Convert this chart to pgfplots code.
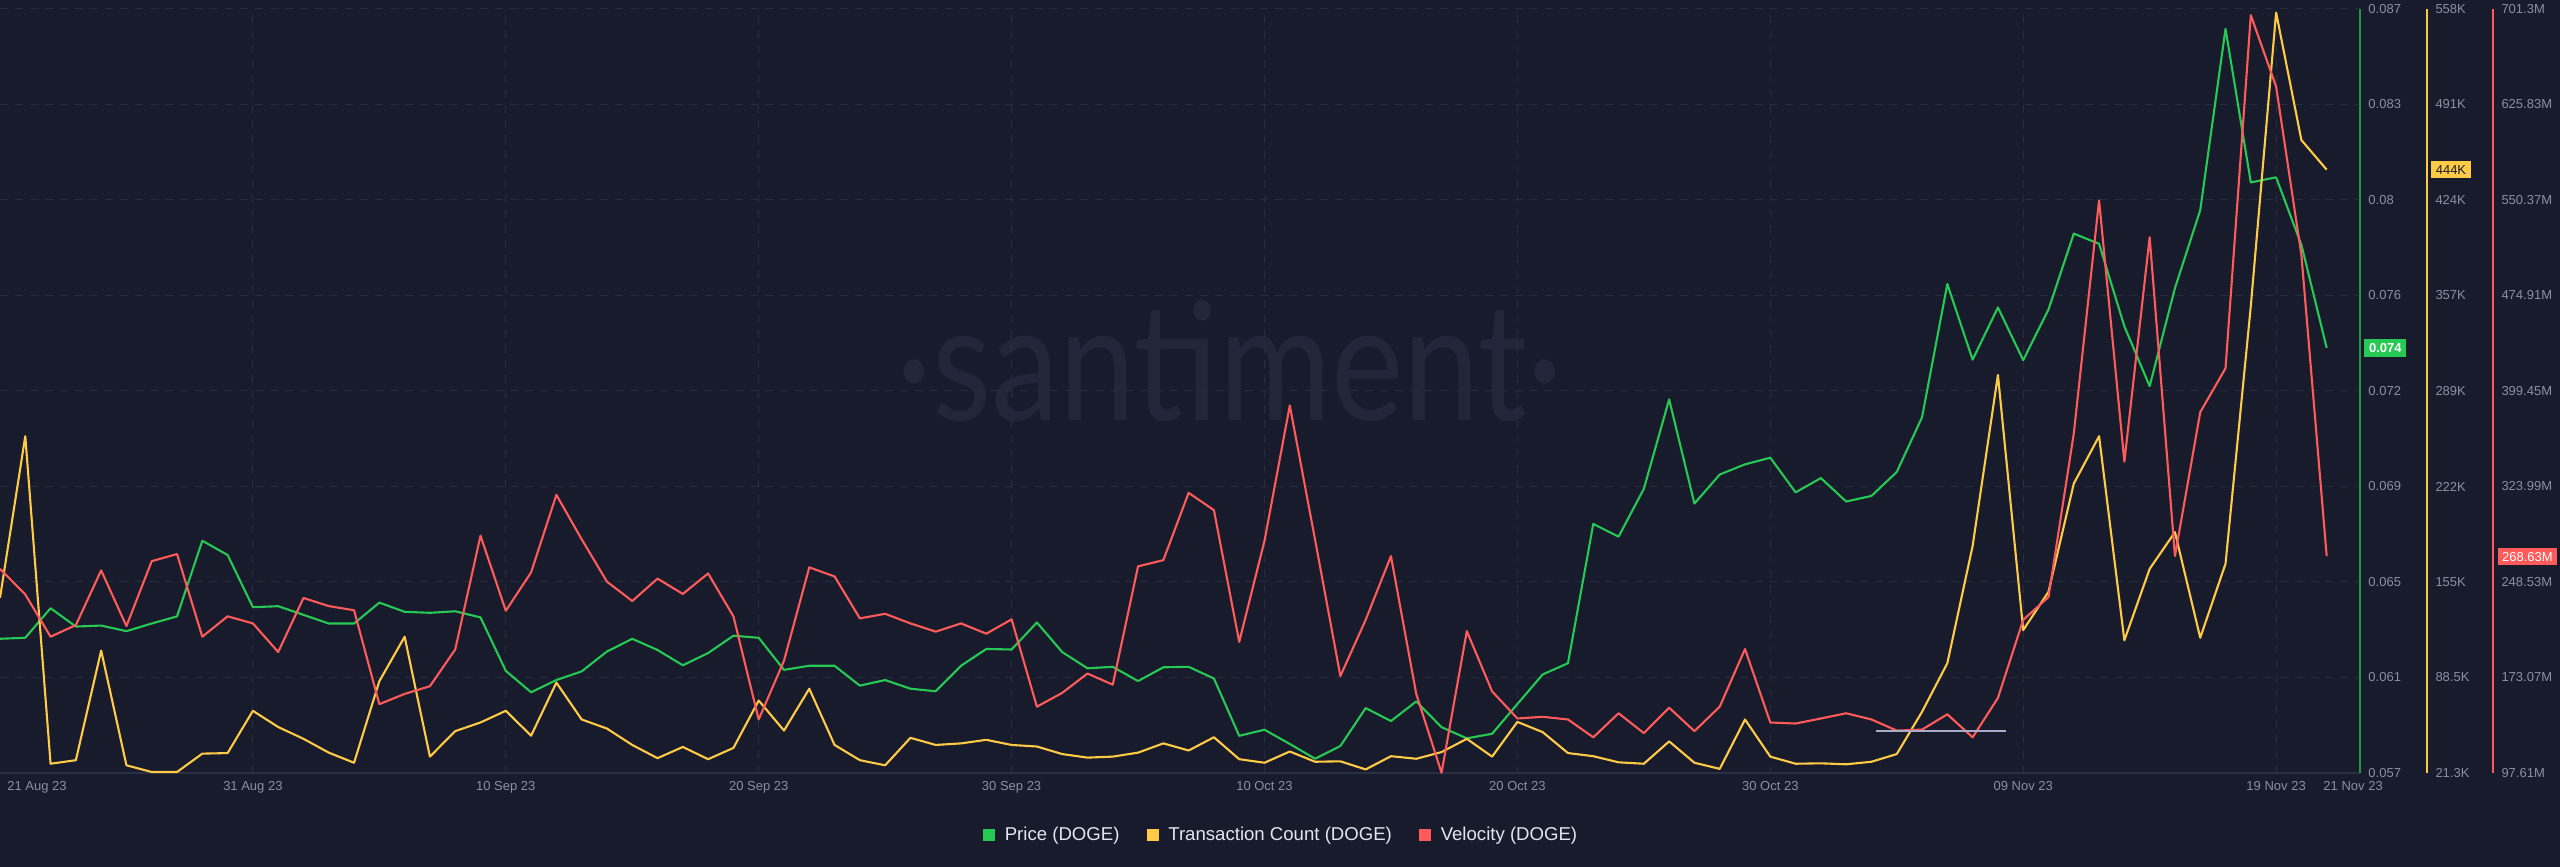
\documentclass[border=0pt]{standalone}
\usepackage{fontspec}
\setmainfont{Liberation Sans}
\newfontfamily\wmfont{Lato}
\usepackage{graphicx}
\usepackage{pgfplots}
\pgfplotsset{compat=1.18}
\definecolor{bg}{HTML}{181B2B}
\definecolor{gridc}{HTML}{282C40}
\definecolor{axisc}{HTML}{2B2F44}
\definecolor{pricegreen}{HTML}{26C953}
\definecolor{countyellow}{HTML}{FFCB47}
\definecolor{velred}{HTML}{FF5B5B}
\definecolor{ticktext}{HTML}{8A8FA5}
\definecolor{legtext}{HTML}{E3E5EE}
\definecolor{wm}{HTML}{22263A}
\definecolor{crossc}{HTML}{A9ADCB}
\definecolor{darktext}{HTML}{1B1E2E}
\pgfplotsset{
  dogebase/.style={
    at={(0pt,47pt)}, anchor=south west,
    scale only axis, height=382pt,
    clip=false,
    major tick length=0pt,
    tick style={draw=none},
    tick label style={font=\fontsize{6.5}{7}\selectfont, text=ticktext},
    yticklabel style={anchor=west, inner sep=0pt, xshift=4pt},
    /pgf/number format/assume math mode=true,
    axis y line*=right,
  },
}
\begin{document}
\begin{tikzpicture}
\fill[bg] (0,0) rectangle (1280pt,433.5pt);
\node[text=wm, inner sep=0pt] at (615pt,252.75pt) {\resizebox{333pt}{60pt}{\wmfont ·santiment·}};
% ---------------- Price axis ----------------
\begin{axis}[dogebase,
  width=1180pt,
  xmin=0, xmax=93.32, ymin=0.057, ymax=0.087,
  axis x line*=bottom,
  x axis line style={draw=axisc, line width=0.6pt},
  y axis line style={draw=pricegreen!70!bg, line width=0.7pt},
  ytick={0.057,0.06075,0.0645,0.06825,0.072,0.07575,0.0795,0.08325,0.087},
  yticklabels={0.057,0.061,0.065,0.069,0.072,0.076,0.08,0.083,0.087},
  xtick={10,20,30,40,50,60,70,80,90},
  xticklabels={31 Aug 23,10 Sep 23,20 Sep 23,30 Sep 23,10 Oct 23,20 Oct 23,30 Oct 23,09 Nov 23,19 Nov 23},
  xticklabel style={anchor=north, inner sep=0pt, yshift=-4.2pt},
  extra x ticks={0}, extra x tick labels={21 Aug 23},
  extra x tick style={grid=none, xticklabel style={anchor=north west, xshift=3.5pt}},
  xmajorgrids, ymajorgrids,
  major grid style={draw=gridc, line width=0.5pt, dash pattern=on 4pt off 3.5pt},
  legend columns=3,
  legend style={at={(axis description cs:0.5424,-0.0812)}, anchor=center,
    draw=none, fill=none, font=\fontsize{9.3}{11}\selectfont, text=legtext,
    nodes={inner sep=0pt},
    /tikz/every odd column/.append style={column sep=5pt},
    /tikz/every even column/.append style={column sep=13.5pt}},
]
\addplot[pricegreen, line width=1.05pt, line join=round, forget plot] table {
x y
0 0.06227
1 0.06231
2 0.06347
3 0.06275
4 0.06279
5 0.06257
6 0.06287
7 0.06315
8 0.06612
9 0.06556
10 0.06351
11 0.06355
12 0.06321
13 0.06287
14 0.06287
15 0.06369
16 0.06333
17 0.06329
18 0.06335
19 0.06311
20 0.06101
21 0.06017
22 0.06065
23 0.06099
24 0.06177
25 0.06227
26 0.06183
27 0.06123
28 0.06171
29 0.06239
30 0.06231
31 0.06105
32 0.06121
33 0.06121
34 0.06043
35 0.06065
36 0.06031
37 0.06021
38 0.06121
39 0.06187
40 0.06185
41 0.06291
42 0.06175
43 0.06111
44 0.06117
45 0.06061
46 0.06115
47 0.06117
48 0.06071
49 0.05846
50 0.05870
51 0.05814
52 0.05756
53 0.05806
54 0.05955
55 0.05904
56 0.05981
57 0.05880
58 0.05836
59 0.05854
60 0.05971
61 0.06087
62 0.06131
63 0.06678
64 0.06628
65 0.06816
66 0.07167
67 0.06758
68 0.06872
69 0.06912
70 0.06938
71 0.06802
72 0.06858
73 0.06766
74 0.06788
75 0.06882
76 0.07097
77 0.07620
78 0.07323
79 0.07528
80 0.07321
81 0.07520
82 0.07818
83 0.07778
84 0.07454
85 0.07219
86 0.07604
87 0.07910
88 0.08622
89 0.08019
90 0.08039
91 0.07774
92 0.07369
};
\addlegendimage{legend image code/.code={\fill[pricegreen] (0pt,-2.75pt) rectangle (5.5pt,2.75pt);}}
\addlegendimage{legend image code/.code={\fill[countyellow] (0pt,-2.75pt) rectangle (5.5pt,2.75pt);}}
\addlegendimage{legend image code/.code={\fill[velred] (0pt,-2.75pt) rectangle (5.5pt,2.75pt);}}
\addlegendentry{Price (DOGE)}
\addlegendentry{Transaction Count (DOGE)}
\addlegendentry{Velocity (DOGE)}
\node[font=\fontsize{6.5}{7}\selectfont, text=ticktext, anchor=north west, inner sep=0pt, xshift=-1.8pt, yshift=-4.2pt] at (axis cs:92,0.057) {21 Nov 23};
\node[fill=pricegreen, text=white, font=\bfseries\fontsize{6.5}{7}\selectfont, inner xsep=2.3pt, inner ysep=2pt, anchor=west, xshift=2pt] at (axis cs:93.32,0.07369) {0.074};
\end{axis}
% ---------------- Transaction count axis ----------------
\begin{axis}[dogebase,
  width=1213.5pt,
  xmin=0, xmax=95.97, ymin=21.3, ymax=558,
  hide x axis, xtick=\empty,
  y axis line style={draw=countyellow, line width=0.7pt},
  ytick={21.3,88.3875,155.475,222.5625,289.65,356.7375,423.825,490.9125,558},
  yticklabels={21.3K,88.5K,155K,222K,289K,357K,424K,491K,558K},
]
\addplot[countyellow, line width=1.05pt, line join=round] table {
x y
0 144.3
1 257.9
2 27.8
3 30.3
4 107.3
5 26.7
6 22.0
7 22.0
8 34.9
9 35.3
10 65.0
11 53.6
12 45.3
13 35.6
14 28.5
15 85.8
16 117.0
17 32.8
18 50.7
19 56.8
20 65.0
21 47.5
22 84.8
23 58.9
24 52.5
25 41.0
26 31.7
27 39.6
28 31.0
29 38.9
30 72.2
31 51.1
32 80.5
33 41.0
34 30.3
35 26.7
36 46.0
37 41.0
38 42.1
39 44.6
40 41.0
41 39.9
42 34.6
43 32.1
44 32.8
45 35.6
46 42.1
47 37.1
48 46.4
49 31.0
50 28.5
51 36.4
52 29.2
53 29.5
54 23.8
55 33.1
56 31.3
57 36.0
58 45.3
59 32.8
60 57.2
61 50.0
62 35.3
63 33.1
64 28.8
65 27.8
66 43.5
67 28.5
68 24.2
69 58.9
70 32.8
71 27.8
72 28.1
73 27.4
74 29.2
75 34.6
76 64.3
77 98.4
78 180.8
79 300.9
80 121.7
81 148.6
82 224.6
83 257.9
84 114.5
85 164.7
86 190.5
87 116.3
88 168.3
89 349.3
90 555.5
91 465.9
92 445.1
};
\node[fill=countyellow, text=darktext, font=\fontsize{6.5}{7}\selectfont, inner xsep=2.3pt, inner ysep=2pt, anchor=west, xshift=1.85pt] at (axis cs:95.97,445.1) {444K};
\end{axis}
% ---------------- Velocity axis ----------------
\begin{axis}[dogebase,
  width=1246.5pt,
  xmin=0, xmax=98.58, ymin=97.61, ymax=701.3,
  hide x axis, xtick=\empty,
  y axis line style={draw=velred, line width=0.7pt},
  ytick={97.61,173.07125,248.5325,323.99375,399.455,474.91625,550.3775,625.83875,701.3},
  yticklabels={97.61M,173.07M,248.53M,323.99M,399.45M,474.91M,550.37M,625.83M,701.3M},
]
\addplot[velred, line width=1.05pt, line join=round] table {
x y
0 258.9
1 238.7
2 205.3
3 214.5
4 257.7
5 213.7
6 265.0
7 270.6
8 205.3
9 221.4
10 215.8
11 193.2
12 235.9
13 229.5
14 226.2
15 152.0
16 160.1
17 166.2
18 195.2
19 285.1
20 225.8
21 256.1
22 317.4
23 282.3
24 248.8
25 233.5
26 251.2
27 239.1
28 255.3
29 221.4
30 139.9
31 186.3
32 260.1
33 252.9
34 219.8
35 223.4
36 215.8
37 209.3
38 215.8
39 207.7
40 219.0
41 150.0
42 160.9
43 176.2
44 167.4
45 260.9
46 265.8
47 319.0
48 305.3
49 201.2
50 281.1
51 388.0
52 281.9
53 174.2
54 218.6
55 269.0
56 160.1
57 97.8
58 209.7
59 162.1
60 140.7
61 142.0
62 139.9
63 125.8
64 144.8
65 129.1
66 149.2
67 130.7
68 150.0
69 195.6
70 137.5
71 136.7
72 140.7
73 144.8
74 139.9
75 131.1
76 131.9
77 144.0
78 125.8
79 156.9
80 218.6
81 236.7
82 365.8
83 550.1
84 343.6
85 521.0
86 269.0
87 382.7
88 417.4
89 696.4
90 640.0
91 506.9
92 269.0
};
\addplot[crossc, line width=1pt] coordinates {(74.18,131.1) (79.32,131.1)};
\node[fill=velred, text=white, font=\fontsize{6.5}{7}\selectfont, inner xsep=2.3pt, inner ysep=2pt, anchor=west, xshift=2pt] at (axis cs:98.58,268.63) {268.63M};
\end{axis}
\pgfresetboundingbox
\useasboundingbox (0,0) rectangle (1280pt,433.5pt);
\end{tikzpicture}
\end{document}
